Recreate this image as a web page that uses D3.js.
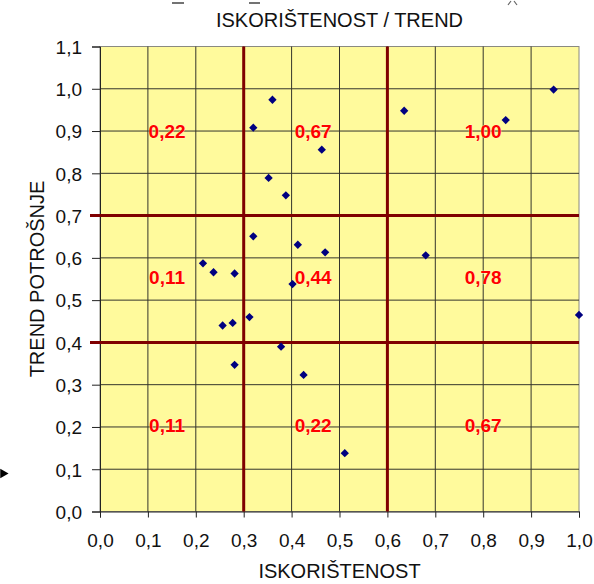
<!DOCTYPE html>
<html lang="hr">
<head>
    <meta charset="UTF-8">
    <title>Iskorištenost / Trend</title>
    <script src="https://d3js.org/d3.v7.min.js"></script>
    <style>
        body {
            margin: 0;
            background: #ffffff;
            font-family: Arial, "Liberation Sans", sans-serif;
        }
        .tick text {
            font-family: Arial, "Liberation Sans", sans-serif;
            font-size: 19px;
            fill: #111;
        }
        .axis-title {
            font-size: 20px;
            fill: #111;
        }
        .quad-label {
            font-size: 19px;
            font-weight: bold;
            fill: #ff0000;
        }
    </style>
</head>
<body>
<svg id="chart" width="594" height="584"></svg>
<script>
    // iskorištenost (x) and trend potrošnje (y) for each point
    const xVals = [0.36, 0.32, 0.463, 0.352, 0.388, 0.32, 0.413, 0.47, 0.215, 0.237, 0.281, 0.402,
                   0.256, 0.277, 0.312, 0.378, 0.281, 0.425, 0.511, 0.635, 0.847, 0.947, 0.68, 1.0];
    const yVals = [0.974, 0.908, 0.856, 0.789, 0.748, 0.651, 0.631, 0.613, 0.587, 0.566, 0.563, 0.538,
                   0.44, 0.446, 0.46, 0.39, 0.347, 0.323, 0.138, 0.948, 0.926, 0.998, 0.606, 0.465];

    // quadrant boundaries
    const xSplits = [0.3, 0.6];
    const ySplits = [0.4, 0.7];

    // quadrant shares, rows from top to bottom
    const quadValues = [
        ["0,22", "0,67", "1,00"],
        ["0,11", "0,44", "0,78"],
        ["0,11", "0,22", "0,67"]
    ];
    const quadLabelX = [0.14, 0.445, 0.8];
    const quadLabelY = [0.9, 0.555, 0.205];

    const xTicks = d3.range(0, 11).map(i => i / 10);
    const yTicks = d3.range(0, 12).map(i => i / 10);
    const fmt = v => v.toFixed(1).replace(".", ",");

    const svg = d3.select("#chart");
    const pLeft = 100, pRight = 579, pTop = 46.5, pBottom = 511.5;

    const x = d3.scaleLinear().domain([0, 1]).range([pLeft, pRight]);
    const y = d3.scaleLinear().domain([0, 1.1]).range([pBottom, pTop]);

    // bits of a cut-off header line above the chart
    svg.append("g")
        .attr("stroke", "#444").attr("stroke-width", 1.5)
        .selectAll("line")
        .data([[172, 184], [249, 260]])
        .join("line")
        .attr("x1", d => d[0]).attr("x2", d => d[1])
        .attr("y1", 3).attr("y2", 3);
    svg.append("path")
        .attr("d", "M508,5 L511,1 M514,1 L517,5")
        .attr("stroke", "#666").attr("stroke-width", 1.2).attr("fill", "none");

    // plot area
    svg.append("rect")
        .attr("x", pLeft).attr("y", pTop)
        .attr("width", pRight - pLeft).attr("height", pBottom - pTop)
        .attr("fill", "#fffa9c")
        .attr("stroke", "#8a8a80")
        .attr("stroke-width", 1);

    // gridlines
    svg.append("g").selectAll("line")
        .data(xTicks.slice(1, -1))
        .join("line")
        .attr("x1", d => x(d)).attr("x2", d => x(d))
        .attr("y1", pTop).attr("y2", pBottom)
        .attr("stroke", "#34342c").attr("stroke-width", 1);

    svg.append("g").selectAll("line")
        .data(yTicks.slice(1, -1))
        .join("line")
        .attr("x1", pLeft).attr("x2", pRight)
        .attr("y1", d => y(d)).attr("y2", d => y(d))
        .attr("stroke", "#34342c").attr("stroke-width", 1);

    // axes
    const xAxis = svg.append("g")
        .attr("transform", `translate(0,${pBottom})`)
        .call(d3.axisBottom(x).tickValues(xTicks).tickFormat(fmt).tickSizeOuter(0).tickSize(6).tickPadding(16));
    const yAxis = svg.append("g")
        .attr("transform", `translate(${pLeft},0)`)
        .call(d3.axisLeft(y).tickValues(yTicks).tickFormat(fmt).tickSizeOuter(0).tickSize(8).tickPadding(10));
    [xAxis, yAxis].forEach(a => {
        a.select(".domain").attr("stroke", "#222");
        a.selectAll(".tick line").attr("stroke", "#222");
    });
    yAxis.selectAll(".tick text").attr("dy", "0.36em");

    // quadrant split lines
    svg.append("g").selectAll("line")
        .data(xSplits)
        .join("line")
        .attr("x1", d => x(d)).attr("x2", d => x(d))
        .attr("y1", pTop).attr("y2", pBottom)
        .attr("stroke", "#7f0000").attr("stroke-width", 3);

    svg.append("g").selectAll("line")
        .data(ySplits)
        .join("line")
        .attr("x1", pLeft - 10).attr("x2", pRight)
        .attr("y1", d => y(d)).attr("y2", d => y(d))
        .attr("stroke", "#7f0000").attr("stroke-width", 3);

    // quadrant labels
    const labels = [];
    quadValues.forEach((row, r) => row.forEach((v, c) => labels.push({ v, c, r })));
    svg.append("g").selectAll("text")
        .data(labels)
        .join("text")
        .attr("class", "quad-label")
        .attr("x", d => x(quadLabelX[d.c]))
        .attr("y", d => y(quadLabelY[d.r]))
        .attr("dy", "0.36em")
        .attr("text-anchor", "middle")
        .attr("stroke", "#fffbd0").attr("stroke-width", 0.6).attr("paint-order", "stroke")
        .text(d => d.v);

    // points
    const diamond = d3.symbol().type(d3.symbolDiamond2).size(44);
    svg.append("g").selectAll("path")
        .data(xVals.map((v, i) => ({ x: v, y: yVals[i] })))
        .join("path")
        .attr("d", diamond)
        .attr("transform", d => `translate(${x(d.x)},${y(d.y)})`)
        .attr("fill", "#000080");

    // titles
    svg.append("text")
        .attr("class", "axis-title")
        .attr("x", (pLeft + pRight) / 2).attr("y", 27)
        .attr("text-anchor", "middle")
        .text("ISKORIŠTENOST / TREND");

    svg.append("text")
        .attr("class", "axis-title")
        .attr("x", (pLeft + pRight) / 2).attr("y", 578)
        .attr("text-anchor", "middle")
        .text("ISKORIŠTENOST");

    svg.append("text")
        .attr("class", "axis-title")
        .attr("transform", `translate(44,${(pTop + pBottom) / 2}) rotate(-90)`)
        .attr("text-anchor", "middle")
        .text("TREND POTROŠNJE");

    // small marker at the left edge
    svg.append("path")
        .attr("d", d3.symbol().type(d3.symbolTriangle).size(40))
        .attr("transform", `translate(3,${y(0.09)}) rotate(90)`)
        .attr("fill", "#000");
</script>
</body>
</html>
